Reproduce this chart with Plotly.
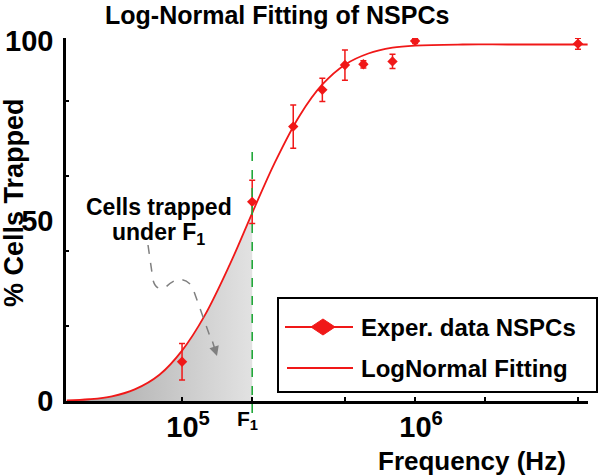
import math
import plotly.graph_objects as go

# ---------------- data ----------------
freq_hz = [1e5, 2e5, 3e5, 4e5, 5e5, 6e5, 8e5, 1e6, 5e6]
pct_trapped = [10.9, 55.3, 76.2, 86.4, 93.3, 93.5, 94.3, 100.0, 99.2]
pct_err = [5.1, 6.0, 6.0, 3.2, 4.2, 1.0, 2.0, 0.7, 1.5]

fit_freq = [3.2e4, 4e4, 5e4, 6.3e4, 8e4, 1e5, 1.25e5, 1.6e5, 2e5, 2.5e5, 3.2e5,
            4e5, 5e5, 6.3e5, 8e5, 1e6, 1.6e6, 2.5e6, 4e6, 5.5e6]
fit_pct = [0.15, 0.48, 1.3, 3.3, 7.3, 14.0, 23.7, 37.8, 52.2, 66.2, 79.3,
           87.9, 93.4, 96.5, 98.1, 98.7, 99.0, 99.0, 99.0, 99.0]

F1 = 2e5
x_tick_vals = [1e5, 1e6]
x_tick_text = ["10<sup>5</sup>", "10<sup>6</sup>"]
x_minor_vals = [2e5, 5e5, 2e6, 5e6]
y_tick_vals = [0, 50, 100]
y_tick_text = ["0", "50", "100"]
y_minor_vals = [20.8, 41.7, 62.5, 83.3]

legend_labels = ["Exper. data NSPCs", "LogNormal Fitting"]
title_text = "Log-Normal Fitting of NSPCs"

# ---------------- geometry helpers (pixel -> paper) ----------------
W, H = 600, 476
ML, MR, MT, MB = 66, 12, 38, 75
PW, PH = W - ML - MR, H - MT - MB


def px(x):
    return (x - ML) / PW


def py(y):
    return (H - MB - y) / PH


FONT = "Liberation Sans, Arial, Helvetica, sans-serif"
RED = "#f01818"

fig = go.Figure()

# shaded area under the fit, up to F1
sh_x = [f for f in fit_freq if f <= F1]
sh_y = [p for f, p in zip(fit_freq, fit_pct) if f <= F1]
fig.add_trace(go.Scatter(
    x=sh_x, y=sh_y, mode="lines", line=dict(width=0, shape="spline"),
    fill="tozeroy",
    fillgradient=dict(type="horizontal",
                      colorscale=[[0, "#a4a4a4"], [1, "#e2e2e2"]]),
    showlegend=False, hoverinfo="skip"))

# fit curve
fig.add_trace(go.Scatter(
    x=fit_freq, y=fit_pct, mode="lines",
    line=dict(color=RED, width=1.8, shape="spline"),
    name=legend_labels[1], showlegend=False))

# experimental data
fig.add_trace(go.Scatter(
    x=freq_hz, y=pct_trapped, mode="markers",
    marker=dict(symbol="diamond", size=8, color=RED),
    error_y=dict(type="data", array=pct_err, color=RED, thickness=1.5, width=3),
    name=legend_labels[0], showlegend=False))

shapes = []
# F1 dashed line
shapes.append(dict(type="line", xref="x", yref="paper", x0=F1, x1=F1,
                   y0=py(413), y1=py(150),
                   line=dict(color="#22a83a", width=1.6, dash="dash"), layer="above"))
# dashed curvy arrow
path = ("M {:.4f},{:.4f} L {:.4f},{:.4f} Q {:.4f},{:.4f} {:.4f},{:.4f} "
        "Q {:.4f},{:.4f} {:.4f},{:.4f} L {:.4f},{:.4f}").format(
    px(148), py(245), px(153), py(280), px(156), py(291), px(165), py(288),
    px(180), py(272), px(192), py(286), px(212), py(342))
shapes.append(dict(type="path", xref="paper", yref="paper", path=path,
                   line=dict(color="#808080", width=1.5, dash="dash"), layer="above"))
# legend box
shapes.append(dict(type="rect", xref="paper", yref="paper",
                   x0=px(278), x1=px(597), y0=py(392), y1=py(298),
                   line=dict(color="black", width=2), fillcolor="white", layer="above"))
shapes.append(dict(type="line", xref="paper", yref="paper",
                   x0=px(285), x1=px(353), y0=py(327), y1=py(327),
                   line=dict(color=RED, width=2), layer="above"))
dpath = "M {:.4f},{:.4f} L {:.4f},{:.4f} L {:.4f},{:.4f} L {:.4f},{:.4f} Z".format(
    px(311), py(327), px(323), py(319), px(335), py(327), px(323), py(335))
shapes.append(dict(type="path", xref="paper", yref="paper", path=dpath,
                   line=dict(color=RED, width=1), fillcolor=RED, layer="above"))
shapes.append(dict(type="line", xref="paper", yref="paper",
                   x0=px(287), x1=px(353), y0=py(368), y1=py(368),
                   line=dict(color=RED, width=2), layer="above"))


def label(text, x, y, size, xanchor="center", **kw):
    d = dict(text=text, xref="paper", yref="paper", x=x, y=y, showarrow=False,
             xanchor=xanchor, yanchor="middle", font=dict(size=size, color="black"))
    d.update(kw)
    return d


annotations = [
    label("<b>%s</b>" % title_text, px(277), py(15), 25),
    label("<b>% Cells Trapped</b>", px(14), py(203), 27, textangle=-90),
    label("<b>Frequency (Hz)</b>", px(472), py(461), 26),
    label("<b>F<sub>1</sub></b>", math.log10(F1), py(420), 21, xref="x", xshift=-5),
    label("<b>Cells trapped</b>", px(159), py(207), 23),
    label("<b>under F<sub>1</sub></b>", px(158), py(233), 23),
    # arrow head of dashed curve
    dict(text="", xref="paper", yref="paper", x=px(217), y=py(356),
         ax=-5, ay=-16, showarrow=True, arrowhead=2, arrowsize=1.3,
         arrowwidth=1.5, arrowcolor="#808080"),
    label("<b>%s</b>" % legend_labels[0], px(359), py(327), 24, xanchor="left"),
    label("<b>%s</b>" % legend_labels[1], px(359), py(368), 24, xanchor="left"),
]

fig.update_layout(
    width=W, height=H,
    margin=dict(l=ML, r=MR, t=MT, b=MB, autoexpand=False),
    paper_bgcolor="white", plot_bgcolor="white",
    font=dict(family=FONT, color="black"),
    showlegend=False,
    shapes=shapes,
    annotations=annotations,
)

fig.update_xaxes(
    type="log", range=[4.502, 6.742], automargin=False,
    tickvals=x_tick_vals, ticktext=["<b>%s</b>" % t for t in x_tick_text],
    tickfont=dict(size=29, color="black", family=FONT),
    ticklabelshift=6, ticklabelstandoff=-2,
    ticks="inside", ticklen=4, tickwidth=2, tickcolor="black",
    minor=dict(tickvals=x_minor_vals, ticks="inside", ticklen=4, tickwidth=2,
               tickcolor="black"),
    showline=True, linecolor="black", linewidth=3,
    showgrid=False, zeroline=False, mirror=False,
)
fig.update_yaxes(
    range=[0, 100.8], automargin=False,
    tickvals=y_tick_vals, ticktext=["<b>%s</b>" % t for t in y_tick_text],
    tickfont=dict(size=29, color="black", family=FONT),
    ticks="", ticklabelstandoff=4,
    minor=dict(tickvals=y_minor_vals, ticks="inside", ticklen=3, tickwidth=2,
               tickcolor="black"),
    showline=True, linecolor="black", linewidth=2.5,
    showgrid=False, zeroline=False, mirror=False,
)

fig.write_html(
    "out.html",
    config={"displayModeBar": False},
    post_script="document.body.style.margin='0';document.body.style.overflow='hidden';",
)
